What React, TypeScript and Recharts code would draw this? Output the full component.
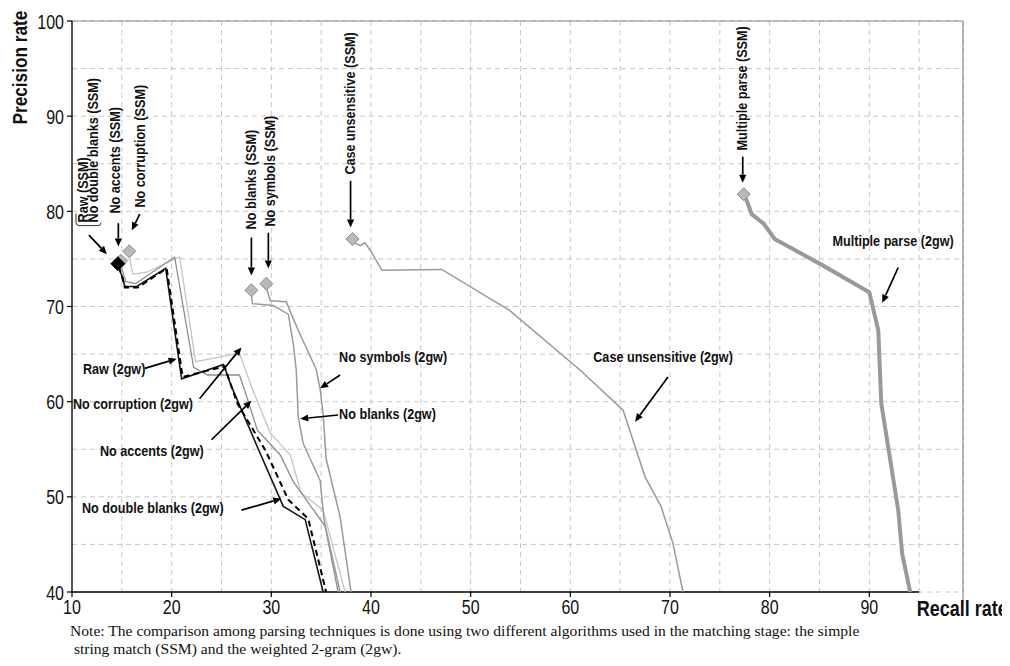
import React from 'react';
import {
  ComposedChart,
  Line,
  Scatter,
  XAxis,
  YAxis,
  CartesianGrid,
  ReferenceLine,
  ReferenceDot,
} from 'recharts';

type P = [number, number];

// ---------- axis ticks ----------
const xTicks = [10, 15, 20, 25, 30, 35, 40, 45, 50, 55, 60, 65, 70, 75, 80, 85, 90, 95];
const yTicks = [40, 45, 50, 55, 60, 65, 70, 75, 80, 85, 90, 95, 100];

// ---------- 2-gram (2gw) curves: [recall, precision] ----------
const raw2gw: P[] = [
  [14.7, 74.2], [15.0, 73.2], [15.3, 72.0], [16.6, 72.0], [19.5, 74.0], [21.1, 62.6],
  [25.3, 63.7], [26.6, 59.8], [29.4, 54.9], [31.7, 49.7], [33.7, 47.7], [35.5, 40],
];
const noDoubleBlanks2gw: P[] = [
  [14.6, 74.3], [14.9, 73.5], [15.1, 73.0], [15.3, 72.1], [16.5, 72.1], [19.4, 74.0],
  [21.0, 62.4], [25.2, 63.9], [26.0, 61.6], [28.7, 55.0], [31.2, 49.0], [33.4, 47.6], [35.2, 40],
];
const noAccents2gw: P[] = [
  [15.0, 74.0], [15.4, 72.6], [16.4, 72.4], [20.3, 75.2], [22.2, 63.6], [23.6, 62.8],
  [26.8, 62.8], [27.6, 60.3], [28.6, 57.0], [30.9, 54.4], [32.2, 51.6], [35.4, 46.9], [36.7, 40],
];
const noCorruption2gw: P[] = [
  [15.8, 75.0], [16.1, 73.4], [17.5, 73.6], [20.8, 75.2], [22.4, 64.2], [26.8, 65.1],
  [28.0, 61.6], [29.9, 56.7], [31.9, 54.4], [33.0, 50.4], [35.2, 48.6], [37.4, 40],
];
const noBlanks2gw: P[] = [
  [28.0, 71.3], [28.1, 70.3], [30.2, 70.1], [31.7, 69.2], [32.2, 66.1], [32.5, 63.3],
  [32.7, 58.4], [33.2, 55.6], [34.9, 51.7], [35.3, 47.5], [36.9, 40],
];
const noSymbols2gw: P[] = [
  [29.5, 72.0], [29.9, 70.6], [31.5, 70.5], [32.0, 69.2], [33.0, 66.8], [34.5, 63.4],
  [34.9, 61.3], [35.2, 58.7], [35.5, 54.0], [36.9, 47.9], [38.0, 40],
];
const caseUnsensitive2gw: P[] = [
  [38.2, 76.8], [38.9, 76.4], [39.4, 76.7], [40.0, 75.8], [41.1, 73.8], [47.1, 73.9],
  [53.9, 69.6], [61.0, 63.3], [65.3, 59.1], [67.5, 52.1], [69.1, 49.0], [70.3, 45.1], [71.3, 40],
];
const multipleParse2gw: P[] = [
  [77.6, 81.4], [78.2, 79.7], [79.4, 78.7], [80.5, 77.1], [85.2, 74.4], [90.0, 71.5],
  [90.9, 67.5], [91.2, 59.8], [92.9, 48.6], [93.3, 44.0], [94.1, 40],
];

// ---------- simple string match (SSM) points ----------
const ssmGray: P[] = [
  [14.9, 74.8], // No accents (SSM)
  [15.75, 75.8], // No corruption (SSM)
  [28.0, 71.7], // No blanks (SSM)
  [29.5, 72.4], // No symbols (SSM)
  [38.15, 77.1], // Case unsensitive (SSM)
  [77.4, 81.8], // Multiple parse (SSM)
];
const ssmBlack: P[] = [
  [14.6, 74.5], // Raw (SSM) / No double blanks (SSM)
];

// ---------- annotations ----------
const horizontalLabels: { text: string; x: number; y: number }[] = [
  { text: 'Multiple parse (2gw)', x: 86.3, y: 76.9 },
  { text: 'Case unsensitive (2gw)', x: 62.3, y: 64.7 },
  { text: 'No symbols (2gw)', x: 36.8, y: 64.7 },
  { text: 'No blanks (2gw)', x: 36.8, y: 58.8 },
  { text: 'Raw (2gw)', x: 11.1, y: 63.5 },
  { text: 'No corruption (2gw)', x: 10.1, y: 59.8 },
  { text: 'No accents (2gw)', x: 12.8, y: 54.9 },
  { text: 'No double blanks (2gw)', x: 11.0, y: 48.9 },
];
const verticalLabels: { text: string; x: number; y: number }[] = [
  { text: 'Raw (SSM)', x: 11.05, y: 78.83 },
  { text: 'No double blanks (SSM)', x: 12.06, y: 78.83 },
  { text: 'No accents (SSM)', x: 14.31, y: 79.76 },
  { text: 'No corruption (SSM)', x: 16.77, y: 80.39 },
  { text: 'No blanks (SSM)', x: 27.95, y: 78.1 },
  { text: 'No symbols (SSM)', x: 29.86, y: 78.4 },
  { text: 'Case unsensitive (SSM)', x: 37.8, y: 83.86 },
  { text: 'Multiple parse (SSM)', x: 77.2, y: 86.4 },
];
const arrows: [number, number, number, number][] = [
  [77.3, 85.75, 77.3, 83.0],
  [92.9, 74.1, 91.3, 70.4],
  [37.95, 83.2, 37.95, 78.3],
  [69.8, 62.6, 66.5, 57.9],
  [36.9, 62.8, 34.9, 61.4],
  [36.7, 58.6, 32.9, 58.2],
  [28.0, 77.25, 28.0, 73.25],
  [29.7, 77.75, 29.7, 74.0],
  [17.3, 63.5, 20.5, 64.5],
  [22.8, 60.3, 27.0, 65.7],
  [24.0, 56.0, 28.0, 60.1],
  [27.0, 48.6, 31.0, 49.8],
  [11.7, 77.5, 13.5, 75.5],
  [14.65, 78.75, 14.65, 76.3],
  [16.8, 79.7, 16.0, 78.0],
];

const SANS = '"Liberation Sans", Arial, sans-serif';
const NARROW_SX = 0.82;

const toData = (pts: P[]) => pts.map(([x, y]) => ({ x, y }));

const series = [
  { key: 'noCorruption', pts: noCorruption2gw, stroke: '#c4c4c4', width: 1.3, dash: undefined as string | undefined },
  { key: 'noAccents', pts: noAccents2gw, stroke: '#8e8e8e', width: 1.3, dash: undefined },
  { key: 'noBlanks', pts: noBlanks2gw, stroke: '#9a9a9a', width: 1.5, dash: undefined },
  { key: 'noSymbols', pts: noSymbols2gw, stroke: '#9a9a9a', width: 1.5, dash: undefined },
  { key: 'caseUns', pts: caseUnsensitive2gw, stroke: '#999999', width: 1.5, dash: undefined },
  { key: 'multi', pts: multipleParse2gw, stroke: '#999999', width: 4, dash: undefined },
  { key: 'noDouble', pts: noDoubleBlanks2gw, stroke: '#151515', width: 1.6, dash: undefined },
  { key: 'raw', pts: raw2gw, stroke: '#000000', width: 2, dash: '6 4' },
];

// Narrow text: Liberation Sans squeezed horizontally (like Arial Narrow)
const NText = (p: {
  x: number;
  y: number;
  size: number;
  bold?: boolean;
  rotate?: boolean;
  anchor?: 'start' | 'middle' | 'end';
  children: React.ReactNode;
}) => (
  <text
    transform={`translate(${p.x} ${p.y})${p.rotate ? ' rotate(-90)' : ''} scale(${NARROW_SX} 1)`}
    textAnchor={p.anchor || 'start'}
    dominantBaseline="central"
    fontFamily={SANS}
    fontWeight={p.bold ? 'bold' : 'normal'}
    fontSize={p.size}
    fill="#111"
  >
    {p.children}
  </text>
);

const XTick = (props: any) => {
  const { x, y, payload } = props;
  if (payload.value % 10 !== 0) return <g />;
  return (
    <g>
      <line x1={x} x2={x} y1={y} y2={y + 5} stroke="#000" strokeWidth={1.2} />
      <NText x={x} y={y + 15} size={19.5} anchor="middle">
        {payload.value}
      </NText>
    </g>
  );
};

const YTick = (props: any) => {
  const { x, y, payload } = props;
  if (payload.value % 10 !== 0) return <g />;
  return (
    <g>
      <line x1={x - 5} x2={x} y1={y} y2={y} stroke="#000" strokeWidth={1.2} />
      <NText x={x - 8} y={y + 1} size={19.5} anchor="end">
        {payload.value}
      </NText>
    </g>
  );
};

const diamond = (fill: string, stroke: string, r: number) => (props: any) => {
  const { cx, cy } = props;
  return (
    <polygon
      points={`${cx},${cy - r} ${cx + r},${cy} ${cx},${cy + r} ${cx - r},${cy}`}
      fill={fill}
      stroke={stroke}
      strokeWidth={1}
    />
  );
};

const arrowShape = (props: any) => {
  const { x1, y1, x2, y2 } = props;
  const ang = Math.atan2(y2 - y1, x2 - x1);
  const L = 8;
  const W = 3.6;
  const bx = x2 - L * Math.cos(ang);
  const by = y2 - L * Math.sin(ang);
  const p1x = bx + W * Math.sin(ang);
  const p1y = by - W * Math.cos(ang);
  const p2x = bx - W * Math.sin(ang);
  const p2y = by + W * Math.cos(ang);
  return (
    <g>
      <line x1={x1} y1={y1} x2={bx} y2={by} stroke="#000" strokeWidth={1.7} />
      <polygon points={`${x2},${y2} ${p1x},${p1y} ${p2x},${p2y}`} fill="#000" />
    </g>
  );
};

const hText = (text: string) => (props: any) => (
  <NText x={props.cx} y={props.cy} size={15.4} bold>
    {text}
  </NText>
);

const vText = (text: string) => (props: any) => (
  <NText x={props.cx} y={props.cy} size={15.4} bold rotate>
    {text}
  </NText>
);

const bracketShape = (props: any) => {
  const { cx, cy } = props;
  return (
    <path
      d={`M ${cx} ${cy - 12} L ${cx} ${cy - 3} Q ${cx} ${cy} ${cx + 3} ${cy} L ${cx + 22} ${cy} Q ${cx + 25} ${cy} ${cx + 25} ${cy - 3}`}
      fill="none"
      stroke="#333"
      strokeWidth={1}
    />
  );
};

const titleY = (props: any) => (
  <NText x={props.cx} y={props.cy} size={21} bold rotate anchor="middle">
    Precision rate
  </NText>
);

const titleX = (props: any) => (
  <NText x={props.cx} y={props.cy} size={22} bold>
    Recall rate
  </NText>
);

export default function App() {
  return (
    <div style={{ position: 'relative', width: 1010, height: 666, margin: '-8px 0 0 -8px' }}>
      <ComposedChart width={1010} height={628} margin={{ top: 21, right: 47, left: 22, bottom: 0 }}>
        <CartesianGrid stroke="#c6c6c6" strokeDasharray="5 4" strokeWidth={1} />
        <XAxis
          type="number"
          dataKey="x"
          domain={[10, 99.4]}
          ticks={xTicks}
          interval={0}
          allowDataOverflow
          axisLine={false}
          tickLine={false}
          tickSize={0}
          tickMargin={0}
          height={36}
          tick={XTick}
        />
        <YAxis
          type="number"
          dataKey="y"
          domain={[40, 100]}
          ticks={yTicks}
          interval={0}
          allowDataOverflow
          axisLine={{ stroke: '#000', strokeWidth: 1.3 }}
          tickLine={false}
          tickSize={0}
          tickMargin={0}
          width={50}
          tick={YTick}
        />
        <ReferenceLine segment={[{ x: 10, y: 100 }, { x: 99.4, y: 100 }]} stroke="#8a8a8a" strokeWidth={1.2} />
        <ReferenceLine
          segment={[{ x: 99.4, y: 38.6 }, { x: 99.4, y: 100 }]}
          stroke="#8a8a8a"
          strokeWidth={1.2}
          ifOverflow="visible"
        />
        <ReferenceLine segment={[{ x: 10, y: 40 }, { x: 95, y: 40 }]} stroke="#000" strokeWidth={1.5} />
        {series.map((s) => (
          <Line
            key={s.key}
            data={toData(s.pts)}
            dataKey="y"
            type="linear"
            stroke={s.stroke}
            strokeWidth={s.width}
            strokeDasharray={s.dash}
            dot={false}
            activeDot={false}
            isAnimationActive={false}
          />
        ))}
        <Scatter data={toData(ssmGray)} dataKey="y" shape={diamond('#b8b8b8', '#8a8a8a', 6.5)} isAnimationActive={false} />
        <Scatter data={toData(ssmBlack)} dataKey="y" shape={diamond('#000', '#000', 7)} isAnimationActive={false} />
        {arrows.map((a, i) => (
          <ReferenceLine key={`a${i}`} segment={[{ x: a[0], y: a[1] }, { x: a[2], y: a[3] }]} shape={arrowShape} ifOverflow="visible" />
        ))}
        {horizontalLabels.map((l) => (
          <ReferenceDot key={l.text} x={l.x} y={l.y} r={0} shape={hText(l.text)} ifOverflow="visible" />
        ))}
        {verticalLabels.map((l) => (
          <ReferenceDot key={l.text} x={l.x} y={l.y} r={0} shape={vText(l.text)} ifOverflow="visible" />
        ))}
        <ReferenceDot x={10.4} y={78.5} r={0} shape={bracketShape} ifOverflow="visible" />
        <ReferenceDot x={4.8} y={95.1} r={0} shape={titleY} ifOverflow="visible" />
        <ReferenceDot x={94.75} y={38.3} r={0} shape={titleX} ifOverflow="visible" />
      </ComposedChart>
      <div
        style={{
          position: 'absolute',
          left: 70,
          top: 622,
          fontFamily: '"Liberation Serif", "Times New Roman", serif',
          fontSize: 15.6,
          lineHeight: '18px',
          color: '#111',
          whiteSpace: 'nowrap',
        }}
      >
        Note: The comparison among parsing techniques is done using two different algorithms used in the matching stage: the simple
        <br />
        &nbsp;string match (SSM) and the weighted 2-gram (2gw).
      </div>
    </div>
  );
}
